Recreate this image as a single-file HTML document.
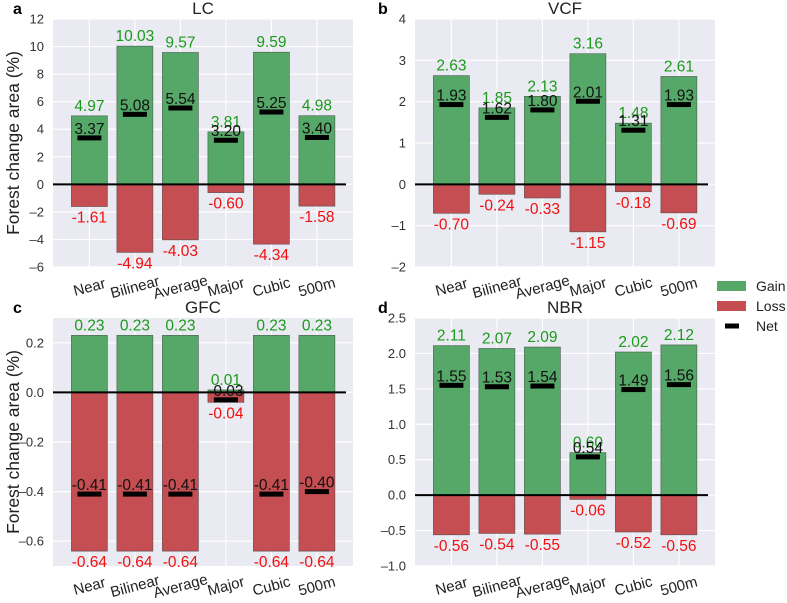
<!DOCTYPE html>
<html><head><meta charset="utf-8"><style>
body{margin:0;background:#fff;}
svg{display:block;font-family:"Liberation Sans",Arial,sans-serif;}
</style></head><body>
<svg id="fig" width="787" height="603" viewBox="0 0 787 603" xmlns="http://www.w3.org/2000/svg"></svg>
<script>
const categories = ["Near","Bilinear","Average","Major","Cubic","500m"];
const lcGain = [4.97,10.03,9.57,3.81,9.59,4.98];
const lcLoss = [-1.61,-4.94,-4.03,-0.60,-4.34,-1.58];
const lcNet = [3.37,5.08,5.54,3.20,5.25,3.40];
const vcfGain = [2.63,1.85,2.13,3.16,1.48,2.61];
const vcfLoss = [-0.70,-0.24,-0.33,-1.15,-0.18,-0.69];
const vcfNet = [1.93,1.62,1.80,2.01,1.31,1.93];
const gfcGain = [0.23,0.23,0.23,0.01,0.23,0.23];
const gfcLoss = [-0.64,-0.64,-0.64,-0.04,-0.64,-0.64];
const gfcNet = [-0.41,-0.41,-0.41,-0.03,-0.41,-0.40];
const nbrGain = [2.11,2.07,2.09,0.60,2.02,2.12];
const nbrLoss = [-0.56,-0.54,-0.55,-0.06,-0.52,-0.56];
const nbrNet = [1.55,1.53,1.54,0.54,1.49,1.56];
const lcTicks = [-6,-4,-2,0,2,4,6,8,10,12];
const vcfTicks = [-2,-1,0,1,2,3,4];
const gfcTicks = [-0.6,-0.4,-0.2,0.0,0.2];
const nbrTicks = [-1.0,-0.5,0.0,0.5,1.0,1.5,2.0,2.5];

const NS="http://www.w3.org/2000/svg";
const svg=document.getElementById('fig');
function mk(tag,attrs,parent,text){const e=document.createElementNS(NS,tag);for(const k in attrs)e.setAttribute(k,attrs[k]);if(text!==undefined)e.textContent=text;(parent||svg).appendChild(e);return e;}

function panel(id,letter,title,L,T,ymin,ymax,ticks,dec,gain,loss,net,ylabel){
  const W=300,H=248;
  const g=mk('g',{});
  
  
  const y=v=>T+(ymax-v)/(ymax-ymin)*H;
  const step=45.5;
  const x=i=>L+(i+0.8)*step;
  const bg=mk('rect',{x:L,y:T,width:W,height:H,fill:'#EAEAF2'},g);
  
  
  if(ylabel){
    const cy=T+H/2;
    const yl=mk('text',{x:19,y:cy,'text-anchor':'middle','font-size':17.5,fill:'#222',transform:`rotate(-90 19 ${cy})`},g,'Forest change area (%)');
    
    
  }
  ticks.forEach(t=>{
    const gl=mk('line',{x1:L,x2:L+W,y1:y(t),y2:y(t),stroke:'#fff','stroke-width':1.2},g);
    
    
    const tl=mk('text',{x:L-9,y:y(t)+4.5,'text-anchor':'end','font-size':13,fill:'#333'},g,(t<0?'\u2013':'')+Math.abs(t).toFixed(dec));
    
    
  });
  categories.forEach((c,i)=>{
    const vl=mk('line',{x1:x(i),x2:x(i),y1:T,y2:T+H,stroke:'#fff','stroke-width':1.2},g);
    
    
  });
  categories.forEach((c,i)=>{
    const bw=36,cx=x(i);
    const gb=mk('rect',{x:cx-bw/2,y:y(gain[i]),width:bw,height:Math.max(0,y(0)-y(gain[i])),fill:'#55A868',stroke:'#4a5a4e','stroke-width':0.6},g);
    
    
    const lb=mk('rect',{x:cx-bw/2,y:y(0),width:bw,height:Math.max(0,y(loss[i])-y(0)),fill:'#C44E52',stroke:'#5a4a4a','stroke-width':0.6},g);
    
    
  });
  const zl=mk('line',{x1:L,x2:L+W-7,y1:y(0),y2:y(0),stroke:'#000','stroke-width':2},g);
  
  
  categories.forEach((c,i)=>{
    const cx=x(i);
    const nm=mk('rect',{x:cx-12,y:y(net[i])-2.5,width:24,height:5,fill:'#000'},g);
    
    
    const gt=mk('text',{x:cx,y:y(gain[i])-5,'text-anchor':'middle','font-size':15.5,fill:'#1a9a1a'},g,gain[i].toFixed(2));
    
    
    const lt=mk('text',{x:cx,y:y(loss[i])+16,'text-anchor':'middle','font-size':15.5,fill:'#f01010'},g,loss[i].toFixed(2));
    
    
    const nt=mk('text',{x:cx,y:y(net[i])-4,'text-anchor':'middle','font-size':15.5,fill:'#111'},g,net[i].toFixed(2));
    
    
    const xl=mk('text',{x:cx,y:T+H+25,'text-anchor':'middle','font-size':15,fill:'#222',transform:`rotate(-15 ${cx} ${T+H+20})`},g,c);
    
    
  });
  const tt=mk('text',{x:L+W/2,y:T-5,'text-anchor':'middle','font-size':17,fill:'#222'},g,title);
  
  
  const lt=mk('text',{x:letter==='a'||letter==='c'?13:378,y:T-5,'font-size':16,'font-weight':'bold',fill:'#000'},g,letter);
  
  
}
panel('lc','a','LC',53,19,-6,12,lcTicks,0,lcGain,lcLoss,lcNet,true);
panel('vcf','b','VCF',415,19,-2,4,vcfTicks,0,vcfGain,vcfLoss,vcfNet,false);
panel('gfc','c','GFC',53,318,-0.7,0.3,gfcTicks,1,gfcGain,gfcLoss,gfcNet,true);
panel('nbr','d','NBR',415,318,-1.0,2.5,nbrTicks,1,nbrGain,nbrLoss,nbrNet,false);

const lg=mk('g',{});


const items=[['Gain','#55A868',286],['Loss','#C44E52',306],['Net','#000',326]];
items.forEach(([n,c,yy])=>{
  const it=mk('g',{},lg);
  
  
  if(n==='Net') mk('rect',{x:725,y:yy-2.5,width:14,height:5,fill:c},it);
  else mk('rect',{x:717,y:yy-5,width:29,height:10,fill:c},it);
  mk('text',{x:756,y:yy+5,'font-size':14,fill:'#222'},it,n);
});
</script>
</body></html>
